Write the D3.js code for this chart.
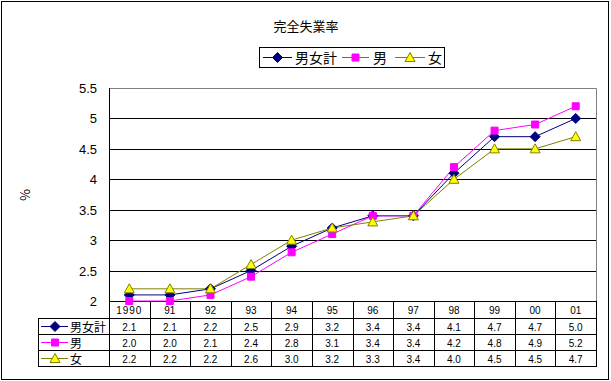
<!DOCTYPE html>
<html><head><meta charset="utf-8">
<script src="https://cdn.jsdelivr.net/npm/d3@7"></script>
<style>
html,body{margin:0;padding:0;background:#fff;}
svg{display:block;font-family:"MS PGothic","Noto Sans CJK JP",sans-serif;}
</style></head>
<body>
<svg id="c" width="611" height="381"></svg>
<script>
const title = "完全失業率";
const years = ["1990","91","92","93","94","95","96","97","98","99","00","01"];
const seriesNames = ["男女計","男","女"];
const total  = [2.1,2.1,2.2,2.5,2.9,3.2,3.4,3.4,4.1,4.7,4.7,5.0];
const male   = [2.0,2.0,2.1,2.4,2.8,3.1,3.4,3.4,4.2,4.8,4.9,5.2];
const female = [2.2,2.2,2.2,2.6,3.0,3.2,3.3,3.4,4.0,4.5,4.5,4.7];
const yTicks = [2,2.5,3,3.5,4,4.5,5,5.5];
const yLabel = "%";

const series = [
  {name: seriesNames[0], values: total,  color: "#000080", fill: "#000080", shape: "diamond"},
  {name: seriesNames[1], values: male,   color: "#FF00FF", fill: "#FF00FF", shape: "square"},
  {name: seriesNames[2], values: female, color: "#808000", fill: "#FFFF00", shape: "triangle"}
];

const svg = d3.select("#c");
const L = 109, R = 596, T = 88, B = 301;
const x = d3.scaleBand().domain(years).range([L, R]);
const y = d3.scaleLinear().domain([2, 5.5]).range([B, T]);
const cx = d => x(d) + x.bandwidth() / 2;

function markerPath(shape) {
  if (shape === "diamond") return "M0,-5L5,0L0,5L-5,0Z";
  if (shape === "square") return "M-3.5,-3.5H3.5V3.5H-3.5Z";
  return "M0,-5L5,4L-5,4Z";
}
function drawMarker(g, s, px, py) {
  g.append("path").attr("d", markerPath(s.shape))
    .attr("transform", `translate(${px},${py})`)
    .attr("fill", s.fill).attr("stroke", s.color).attr("stroke-width", 1);
}

// outer border
svg.append("rect").attr("x", 1.5).attr("y", 1.5).attr("width", 607).attr("height", 378)
  .attr("fill", "#fff").attr("stroke", "#000").attr("stroke-width", 1);

// title
svg.append("text").attr("x", 306).attr("y", 31).attr("text-anchor", "middle")
  .attr("font-size", 13).text(title);

// legend
const lg = svg.append("g");
lg.append("rect").attr("x", 259.5).attr("y", 47.5).attr("width", 185).attr("height", 20)
  .attr("fill", "#fff").attr("stroke", "#000");
const legendPos = [{x1: 263, x2: 292, tx: 295}, {x1: 342, x2: 369, tx: 373}, {x1: 395, x2: 425, tx: 428}];
series.forEach((s, i) => {
  const p = legendPos[i];
  lg.append("line").attr("x1", p.x1).attr("x2", p.x2).attr("y1", 57.5).attr("y2", 57.5)
    .attr("stroke", s.color);
  drawMarker(lg, s, (p.x1 + p.x2) / 2, 57.5);
  lg.append("text").attr("x", p.tx).attr("y", 63).attr("font-size", 14).text(s.name);
});

// y label
svg.append("text").attr("transform", "translate(30,195) rotate(-90)")
  .attr("text-anchor", "middle").attr("font-size", 13).text(yLabel);

// gridlines
svg.append("g").selectAll("line").data(yTicks.filter(t => t > 2 && t < 5.5)).join("line")
  .attr("x1", L).attr("x2", R).attr("y1", d => Math.round(y(d)) + 0.5).attr("y2", d => Math.round(y(d)) + 0.5)
  .attr("stroke", "#000");
// plot border: top & right gray
svg.append("path").attr("d", `M${L},${T + 0.5}H${R + 0.5}V${B}`).attr("fill", "none").attr("stroke", "#808080");
svg.append("line").attr("x1", L + 0.5).attr("x2", L + 0.5).attr("y1", T).attr("y2", B).attr("stroke", "#000");

// y axis labels
svg.append("g").selectAll("text").data(yTicks).join("text")
  .attr("x", 97).attr("y", d => y(d) + 5).attr("text-anchor", "end").attr("font-size", 13)
  .attr("font-family", "Liberation Sans, Arial, sans-serif")
  .text(d => d);

// data table
const rowY = [301, 318, 334, 350, 366];
const tL = 38;
const tg = svg.append("g").attr("stroke", "#000").attr("fill", "none");
// horizontal lines
rowY.forEach((ry, i) => {
  tg.append("line").attr("x1", i === 0 ? L : tL).attr("x2", R + 1).attr("y1", ry + 0.5).attr("y2", ry + 0.5);
});
// vertical lines
tg.append("line").attr("x1", tL + 0.5).attr("x2", tL + 0.5).attr("y1", rowY[1]).attr("y2", rowY[4] + 1);
years.forEach(yr => {
  tg.append("line").attr("x1", Math.round(x(yr)) + 0.5).attr("x2", Math.round(x(yr)) + 0.5)
    .attr("y1", rowY[0]).attr("y2", rowY[4] + 1);
});
tg.append("line").attr("x1", R + 0.5).attr("x2", R + 0.5).attr("y1", rowY[0]).attr("y2", rowY[4] + 1);

// header labels
svg.append("g").selectAll("text").data(years).join("text")
  .attr("x", d => cx(d)).attr("y", rowY[0] + 13).attr("text-anchor", "middle")
  .attr("font-size", 10).attr("font-family", "Liberation Sans, Arial, sans-serif")
  .attr("letter-spacing", d => d.length > 2 ? 1 : 0)
  .text(d => d);

// rows
series.forEach((s, i) => {
  const ry0 = rowY[i + 1], ry1 = rowY[i + 2];
  const my = (ry0 + ry1) / 2 + 0.5;
  const rg = svg.append("g");
  rg.append("line").attr("x1", 41).attr("x2", 68).attr("y1", my).attr("y2", my).attr("stroke", s.color);
  drawMarker(rg, s, 55, my);
  rg.append("text").attr("x", 70).attr("y", my + 5).attr("font-size", 12).text(s.name);
  rg.selectAll("text.v").data(s.values).join("text").attr("class", "v")
    .attr("x", (d, j) => cx(years[j])).attr("y", my + 4).attr("text-anchor", "middle")
    .attr("font-size", 10).attr("font-family", "Liberation Sans, Arial, sans-serif")
    .text(d => d.toFixed(1));
});

// lines and markers
const line = d3.line().x((d, j) => cx(years[j])).y(d => y(d));
series.forEach(s => {
  svg.append("path").datum(s.values).attr("d", line).attr("fill", "none")
    .attr("stroke", s.color).attr("stroke-width", 1);
});
series.forEach(s => {
  const g = svg.append("g");
  s.values.forEach((v, j) => drawMarker(g, s, cx(years[j]), y(v)));
});
</script>
</body></html>
